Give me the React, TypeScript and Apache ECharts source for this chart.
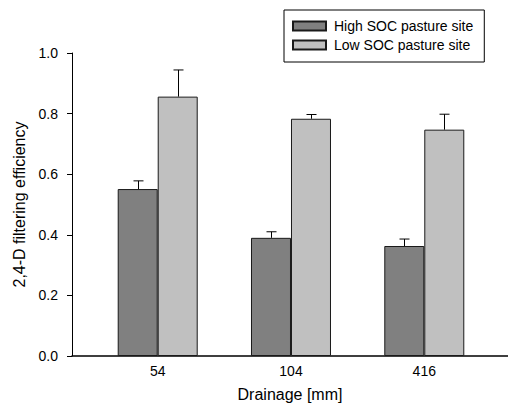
import React, { useEffect, useRef } from "react";
import * as echarts from "echarts";

const categories = ["54", "104", "416"];
const seriesNames = ["High SOC pasture site", "Low SOC pasture site"];
const highValues = [0.551, 0.39, 0.363];
const highErrors = [0.027, 0.02, 0.023];
const lowValues = [0.856, 0.783, 0.747];
const lowErrors = [0.088, 0.014, 0.051];
const yTicks = [0, 0.2, 0.4, 0.6, 0.8, 1.0];

const FONT = "Liberation Sans, Arial, Helvetica, sans-serif";

export default function App() {
  const ref = useRef<HTMLDivElement>(null);
  useEffect(() => {
    if (!ref.current) return;
    const chart = echarts.init(ref.current, null, { renderer: "svg" });
    const pos = categories.map((_, i) => i + 1);
    const barW = 40;
    const errData = (vals: number[], errs: number[]) =>
      vals.map((v, i) => [pos[i], v, v + errs[i]]);
    const errSeries = (name: string, vals: number[], errs: number[], dx: number) => ({
      type: "custom",
      name: name + " err",
      data: errData(vals, errs),
      z: 5,
      silent: true,
      renderItem: (params: any, api: any) => {
        const x = api.value(0);
        const lo = api.coord([x, api.value(1)]);
        const hi = api.coord([x, api.value(2)]);
        const cx = Math.round(lo[0] + dx) + 0.5;
        return {
          type: "group",
          children: [
            {
              type: "line",
              shape: { x1: cx, y1: lo[1], x2: cx, y2: hi[1] },
              style: { stroke: "#000", lineWidth: 1 },
            },
            {
              type: "line",
              shape: { x1: cx - 5, y1: hi[1], x2: cx + 5, y2: hi[1] },
              style: { stroke: "#000", lineWidth: 1 },
            },
          ],
        };
      },
    });
    chart.setOption({
      animation: false,
      textStyle: { fontFamily: FONT },
      grid: { left: 72, right: 0, top: 53, bottom: 49, containLabel: false },
      legend: {
        show: true,
        data: seriesNames,
        orient: "vertical",
        left: 284,
        top: 10,
        padding: [8, 11, 9, 8],
        itemGap: 3,
        itemWidth: 33,
        itemHeight: 9,
        borderColor: "#000",
        borderWidth: 1,
        backgroundColor: "#fff",
        textStyle: { fontFamily: FONT, fontSize: 14, color: "#000", lineHeight: 16, padding: [0, 0, 0, 3] },
        icon: "rect",
      },
      xAxis: {
        type: "value",
        min: 0.357,
        max: 3.628,
        name: "Drainage [mm]",
        nameLocation: "middle",
        nameGap: 30,
        nameTextStyle: { fontFamily: FONT, fontSize: 16, color: "#000" },
        axisLine: { show: true, lineStyle: { color: "#000", width: 1.5 } },
        axisTick: { show: false },
        splitLine: { show: false },
        axisLabel: {
          customValues: pos,
          formatter: (v: number) => categories[Math.round(v) - 1] ?? "",
          fontFamily: FONT,
          fontSize: 14,
          color: "#000",
          margin: 8,
        },
      },
      yAxis: {
        type: "value",
        min: 0,
        max: 1,
        interval: 0.2,
        name: "2,4-D filtering efficiency",
        nameLocation: "middle",
        nameGap: 42,
        nameTextStyle: { fontFamily: FONT, fontSize: 16, color: "#000" },
        axisLine: { show: true, lineStyle: { color: "#000", width: 1 } },
        axisTick: { show: true, length: 5, lineStyle: { color: "#000" } },
        splitLine: { show: false },
        axisLabel: {
          customValues: yTicks,
          formatter: (v: number) => v.toFixed(1),
          fontFamily: FONT,
          fontSize: 14,
          color: "#000",
          margin: 14,
        },
      },
      series: [
        {
          type: "bar",
          name: seriesNames[0],
          data: highValues.map((v, i) => [pos[i], v]),
          barWidth: barW,
          barGap: "0%",
          itemStyle: { color: "#808080", borderColor: "#1a1a1a", borderWidth: 1 },
        },
        {
          type: "bar",
          name: seriesNames[1],
          data: lowValues.map((v, i) => [pos[i], v]),
          barWidth: barW,
          barGap: "0%",
          itemStyle: { color: "#c0c0c0", borderColor: "#1a1a1a", borderWidth: 1 },
        },
        errSeries(seriesNames[0], highValues, highErrors, -barW / 2),
        errSeries(seriesNames[1], lowValues, lowErrors, barW / 2),
      ],
    });
    return () => chart.dispose();
  }, []);
  return <div ref={ref} style={{ width: 508, height: 407, position: "absolute", left: 0, top: 0 }} />;
}
